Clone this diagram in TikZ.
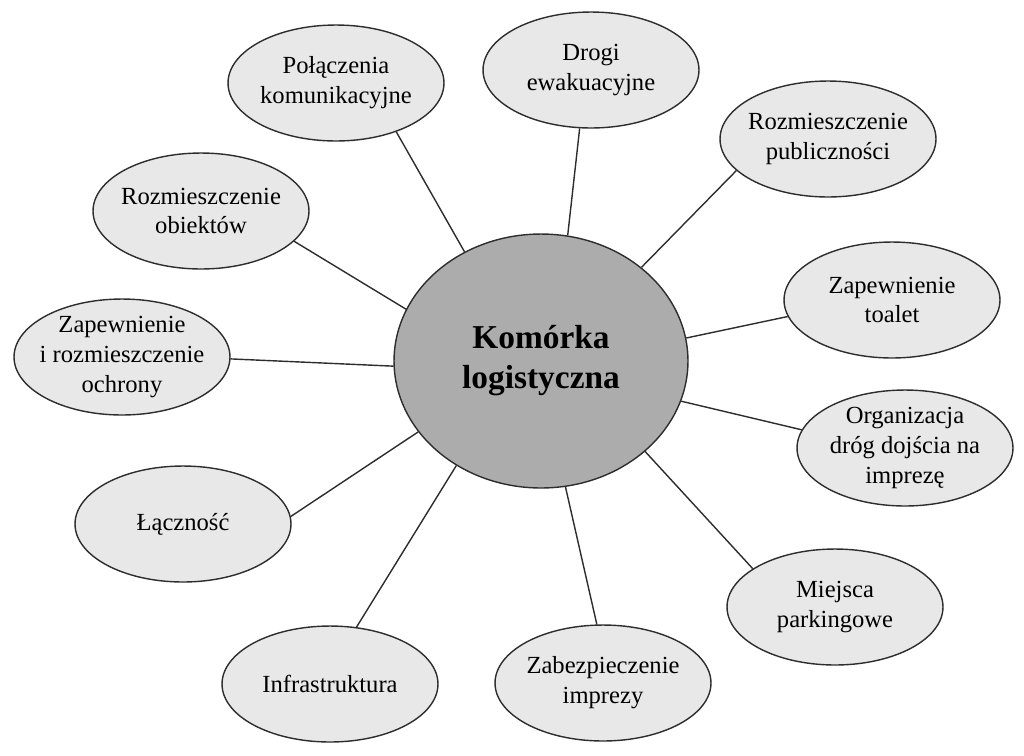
\documentclass[tikz,border=0pt]{standalone}
\usepackage{fontspec}
\setmainfont{Liberation Serif}
\usepackage{xcolor}
\definecolor{LightGray}{RGB}{232,232,232}
\definecolor{MidGray}{RGB}{172,172,172}
\definecolor{LineGray}{RGB}{45,45,45}
\usetikzlibrary{shapes}

\begin{document}
\begin{tikzpicture}[x=0.02cm, y=-0.02cm,
	leaf/.style={ellipse, draw=LineGray, fill=LightGray, line width=0.8pt, minimum width=4.32cm, minimum height=2.32cm, inner xsep=-12pt, inner ysep=-4pt, align=center, font=\fontsize{14}{17}\selectfont},
	hub/.style={ellipse, draw=LineGray, fill=MidGray, line width=0.8pt, minimum width=5.88cm, minimum height=5.08cm, align=center, font=\fontsize{19}{22.7}\selectfont\bfseries},
	link/.style={draw=LineGray, line width=0.8pt}]
	\useasboundingbox (0,0) rectangle (1024,755);

	\node[hub] (kom) at (541,361) {Komórka\\logistyczna};

	\node[leaf] (pol)   at (336,83)  {Połączenia\\komunikacyjne};
	\node[leaf] (drogi) at (591,70)  {Drogi\\ewakuacyjne};
	\node[leaf] (publ)  at (828,139) {Rozmieszczenie\\publiczności};
	\node[leaf] (toal)  at (892,300) {Zapewnienie\\toalet};
	\node[leaf] (org)   at (905,448) {Organizacja\\dróg dojścia na\\imprezę};
	\node[leaf] (park)  at (835,607) {Miejsca\\parkingowe};
	\node[leaf] (zabez) at (603,683) {Zabezpieczenie\\imprezy};
	\node[leaf] (infra) at (330,684) {Infrastruktura};
	\node[leaf] (lacz)  at (183,524) {Łączność};
	\node[leaf] (ochr)  at (122,357) {Zapewnienie\\i rozmieszczenie\\ochrony};
	\node[leaf] (obie)  at (201,211) {Rozmieszczenie\\obiektów};

	% spokes, right side
	\draw[link] (kom.125)   -- (pol.-39);
	\draw[link] (kom.78)    -- (drogi.-101);
	\draw[link] (kom.43)    -- (publ.199);
	\draw[link] (kom.9)     -- (toal.189);
	\draw[link] (kom.-16.5) -- (org.170);
	\draw[link] (kom.-41.6) -- (park.155);
	% spokes, left side
	\draw[link] (kom.-79)   -- (zabez.96);
	\draw[link] (kom.-129)  -- (infra.65);
	\draw[link] (kom.-150)  -- (lacz.4);
	\draw[link] (kom.-178)  -- (ochr.-1);
	\draw[link] (kom.159)   -- (obie.-18);
\end{tikzpicture}
\end{document}
